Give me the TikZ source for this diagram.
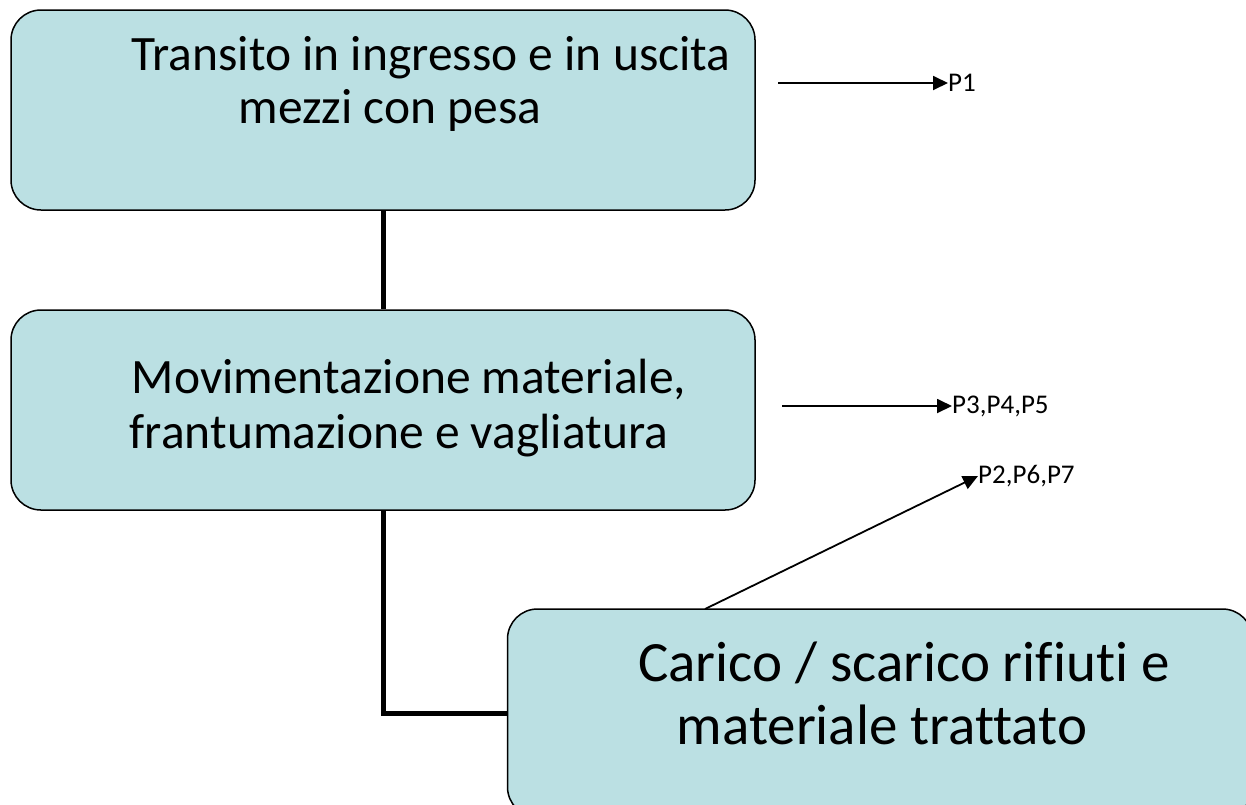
\documentclass[tikz,border=0pt]{standalone}
\usepackage{fontspec}
\setmainfont{Carlito}[Ligatures={TeX,NoCommon}]
\usetikzlibrary{arrows.meta}
\definecolor{boxfill}{RGB}{187,224,227}
\tikzset{
  procbox/.style={draw=black, line width=1.5pt, fill=boxfill, rounded corners=30pt, inner sep=0pt},
  conn/.style={line width=5pt},
  arr/.style={line width=1.8pt, -{Triangle[length=15pt,width=14pt]}},
  bigtxt/.style={anchor=base, inner sep=0pt, font=\fontsize{49.5}{52}\selectfont},
  hugetxt/.style={anchor=base, inner sep=0pt, font=\fontsize{57}{62}\selectfont},
  lbl/.style={anchor=west, inner sep=0pt, font=\fontsize{27}{30}\selectfont}
}
\begin{document}
\begin{tikzpicture}[x=1pt,y=-1pt]
\useasboundingbox (0,0) rectangle (1246,804);
\clip (0,0) rectangle (1246,804);
% boxes
\node[procbox, minimum width=744pt, minimum height=200pt] (box1) at (383,110) {};
\node[procbox, minimum width=744pt, minimum height=200pt] (box2) at (383,410) {};
\node[procbox, minimum width=745pt, minimum height=208pt] (box3) at (880,713) {};
% connectors
\draw[conn] (box1.south) -- (box2.north);
\draw[conn] (box2.south) |- (box3.west);
% box texts
\node[bigtxt] (t1a) at (431,70) {Transito in ingresso e in uscita};
\node[bigtxt] (t1b) at (390,123) {mezzi con pesa};
\node[bigtxt] (t2a) at (409,393) {Movimentazione materiale,};
\node[bigtxt] (t2b) at (399,448) {frantumazione e vagliatura};
\node[hugetxt] (t3a) at (904,681) {Carico / scarico rifiuti e};
\node[hugetxt] (t3b) at (882,744) {materiale trattato};
% side labels and arrows
\node[lbl] (p1) at (948,83) {P1};
\node[lbl] (p345) at (952,406) {P3,P4,P5};
\node[lbl] (p267) at (978,476) {P2,P6,P7};
\coordinate (a1) at (778,83);
\coordinate (a2) at (782,406);
\coordinate (a3) at (705,609);
\draw[arr] (a1) -- (a1 -| p1.west);
\draw[arr] (a2) -- (a2 -| p345.west);
\draw[arr] (a3) -- (p267.west);
\end{tikzpicture}
\end{document}
